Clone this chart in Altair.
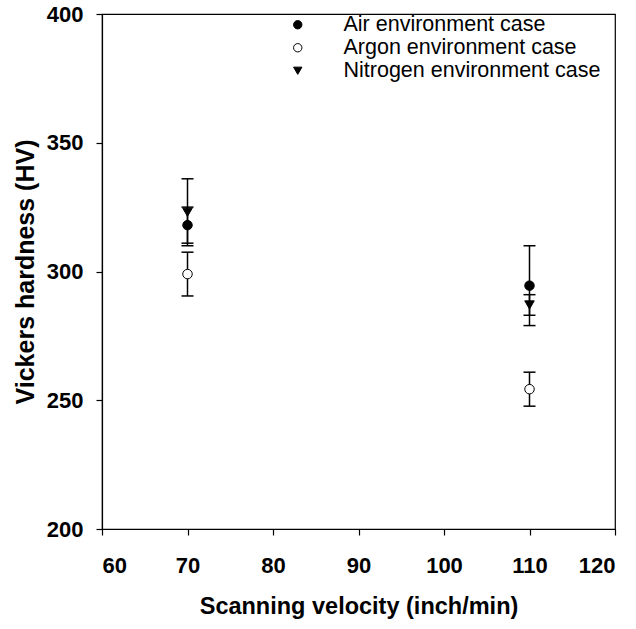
import altair as alt
import pandas as pd

series = ["Air environment case", "Argon environment case", "Nitrogen environment case"]
shapes = ["circle", "circle", "triangle-down"]
fills = ["black", "white", "black"]
strokes = ["black", "black", "black"]
velocity = [70, 110]
air_mean = [318, 294.5]
air_err = [7, 15.5]
argon_mean = [299, 254.3]
argon_err = [8.5, 6.6]
nitrogen_mean = [323, 287]
nitrogen_err = [13, 4]
x_ticks = [60, 70, 80, 90, 100, 110, 120]
y_ticks = [200, 250, 300, 350, 400]

rows = []
for name, means, errs in zip(series, [air_mean, argon_mean, nitrogen_mean],
                             [air_err, argon_err, nitrogen_err]):
    for v, m, e in zip(velocity, means, errs):
        rows.append({"series": name, "velocity": v, "mean": m, "lo": m - e, "hi": m + e})
df = pd.DataFrame(rows)

FONT = "Liberation Sans"
xscale = alt.Scale(domain=[60, 120], nice=False, zero=False)
yscale = alt.Scale(domain=[200, 400], nice=False, zero=False)
xaxis = alt.Axis(values=x_ticks, title="Scanning velocity (inch/min)", grid=False,
                 tickSize=6, labelPadding=20, titlePadding=18, titleFontSize=23.5)
yaxis = alt.Axis(values=y_ticks, title="Vickers hardness (HV)", grid=False,
                 tickSize=6, labelPadding=13, titlePadding=8, titleFontSize=25)

X = alt.X("velocity:Q", scale=xscale, axis=xaxis)

base = alt.Chart(df)
rules = base.mark_rule(color="black", strokeWidth=1.5).encode(
    x=X, y=alt.Y("lo:Q", scale=yscale, axis=yaxis), y2="hi:Q")
cap_lo = base.mark_tick(orient="horizontal", size=12, thickness=1.5, color="black", opacity=1).encode(
    x=X, y=alt.Y("lo:Q", scale=yscale, axis=yaxis))
cap_hi = base.mark_tick(orient="horizontal", size=12, thickness=1.5, color="black", opacity=1).encode(
    x=X, y=alt.Y("hi:Q", scale=yscale, axis=yaxis))
legend = alt.Legend(title=None)
points = base.mark_point(strokeWidth=1, opacity=1, size=90).encode(
    x=X,
    y=alt.Y("mean:Q", scale=yscale, axis=yaxis),
    shape=alt.Shape("series:N", scale=alt.Scale(domain=series, range=shapes), legend=legend),
    fill=alt.Fill("series:N", scale=alt.Scale(domain=series, range=fills), legend=legend),
    stroke=alt.Stroke("series:N", scale=alt.Scale(domain=series, range=strokes), legend=legend),
)

chart = alt.layer(rules, cap_lo, cap_hi, points).properties(
    width=513, height=515,
    autosize=alt.AutoSizeParams(type="none"),
    padding={"left": 102, "top": 14, "right": 21, "bottom": 100},
).configure_view(stroke="black", strokeWidth=1.2).configure_axis(
    domainColor="black", tickColor="black", domainWidth=1.2, tickWidth=1.2,
    labelFont=FONT, labelFontSize=22, labelFontWeight="bold", labelColor="black",
    titleFont=FONT, titleFontWeight="bold", titleColor="black",
).configure_legend(
    orient="none", legendX=185, legendY=0, labelLimit=0,
    labelFont=FONT, labelFontSize=21.5, labelColor="black", labelOffset=35,
    symbolSize=70, symbolStrokeWidth=1, rowPadding=0,
)

chart.save("out.html", embed_options={"renderer": "svg", "actions": False})
